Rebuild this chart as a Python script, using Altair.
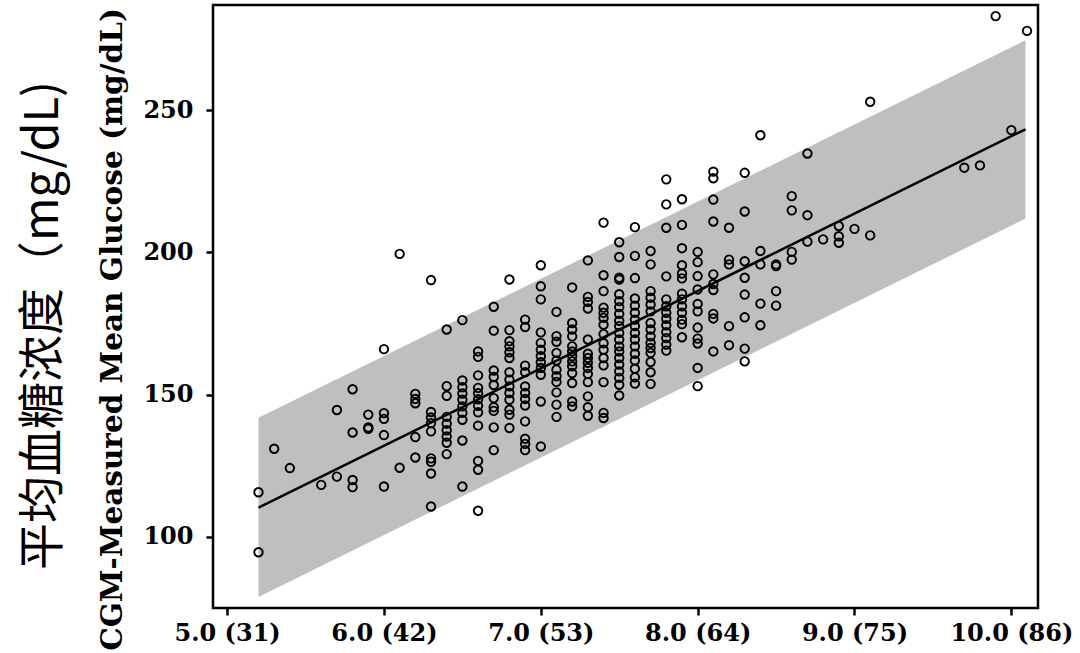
import altair as alt
import pandas as pd

# ---- data ----
a1c_levels = [5.2, 5.3, 5.4, 5.6, 5.7, 5.8, 5.9, 6.0, 6.1, 6.2, 6.3, 6.4, 6.5, 6.6,
              6.7, 6.8, 6.9, 7.0, 7.1, 7.2, 7.3, 7.4, 7.5, 7.6, 7.7, 7.8, 7.9, 8.0,
              8.1, 8.2, 8.3, 8.4, 8.5, 8.6, 8.7, 8.8, 8.9, 9.0, 9.1, 9.7, 9.8, 9.9,
              10.0, 10.1]

glucose_by_level = [
    [115.7, 94.6],
    [131.0],
    [124.2],
    [118.3],
    [121.2, 144.6],
    [151.9, 136.7, 120.0, 117.5],
    [143.0, 138.5, 138.0],
    [166.0, 143.5, 141.5, 135.8, 117.7],
    [199.5, 124.3],
    [150.3, 148.5, 147.0, 135.1, 127.9],
    [190.3, 143.9, 142.0, 140.0, 137.1, 127.6, 126.4, 122.3, 110.7],
    [172.9, 153.0, 149.6, 142.2, 139.8, 137.5, 135.3, 133.1, 129.1],
    [176.2, 155.0, 152.6, 150.4, 148.2, 145.9, 143.6, 141.2, 133.9, 117.7],
    [165.2, 163.3, 156.8, 152.4, 150.5, 148.4, 146.1, 143.8, 139.1, 126.7, 123.6, 109.2],
    [180.9, 172.5, 158.5, 156.2, 153.4, 148.8, 145.6, 144.3, 138.5, 130.5],
    [190.5, 172.7, 168.8, 167.0, 164.9, 162.9, 157.9, 155.3, 152.9, 150.6, 148.2, 144.7, 143.0, 138.3],
    [176.4, 173.8, 160.2, 157.9, 152.9, 150.6, 148.5, 146.2, 140.6, 134.5, 132.7, 130.5],
    [195.5, 188.1, 183.5, 171.9, 168.2, 165.8, 163.5, 161.4, 159.4, 157.0, 147.6, 131.8],
    [179.1, 170.6, 168.6, 164.7, 162.0, 158.8, 156.5, 154.5, 150.8, 146.5, 142.2],
    [187.7, 175.2, 172.9, 170.5, 167.0, 165.2, 163.5, 161.7, 160.0, 157.6, 154.1, 147.6, 145.9],
    [197.2, 184.4, 182.6, 180.3, 169.4, 164.4, 162.9, 161.2, 159.4, 157.3, 154.4, 149.4, 145.6, 142.6],
    [210.5, 192.0, 186.4, 180.6, 178.8, 177.0, 174.6, 171.3, 168.1, 165.8, 162.9, 160.3, 154.4, 143.6, 141.8],
    [203.6, 198.4, 191.1, 190.5, 185.3, 182.9, 180.8, 178.4, 176.0, 174.1, 171.7, 169.4, 167.0, 165.2,
     162.9, 160.6, 158.2, 155.9, 153.5, 149.7],
    [208.9, 198.8, 191.0, 183.8, 181.3, 178.8, 176.4, 174.1, 171.7, 169.4, 167.0, 164.4, 162.0, 159.1,
     156.1, 153.9],
    [200.5, 195.8, 186.4, 184.1, 181.7, 179.3, 175.2, 172.9, 170.5, 168.2, 166.4, 164.7, 161.5, 157.9, 153.8],
    [225.7, 216.9, 208.7, 191.6, 183.5, 181.1, 178.8, 176.7, 174.4, 172.0, 169.9, 167.6, 165.5],
    [218.7, 209.7, 201.5, 195.5, 192.6, 190.9, 185.5, 183.5, 181.1, 178.8, 176.4, 174.8, 170.2],
    [200.2, 196.6, 191.7, 187.0, 181.9, 179.3, 173.6, 169.7, 168.0, 159.4, 153.0],
    [228.4, 226.1, 218.6, 210.9, 192.3, 188.9, 186.8, 178.4, 176.8, 165.2],
    [208.7, 197.5, 195.8, 174.1, 167.4],
    [228.0, 214.4, 196.9, 191.1, 185.2, 177.2, 166.2, 161.7],
    [241.2, 200.5, 195.8, 182.0, 174.4],
    [195.8, 195.2, 186.4, 181.3],
    [219.8, 214.8, 200.2, 197.5],
    [234.8, 213.1, 203.8],
    [204.6],
    [209.3, 205.7, 203.4],
    [208.3],
    [253.0, 206.0],
    [229.8],
    [230.6],
    [283.1],
    [243.0],
    [277.9],
]

fit_x = [5.2, 10.09]
fit_y = [110.3, 243.3]
band_low = [78.9, 211.9]
band_high = [141.9, 274.6]

x_tick_values = [5, 6, 7, 8, 9, 10]
x_tick_labels = ["5.0 (31)", "6.0 (42)", "7.0 (53)", "8.0 (64)", "9.0 (75)", "10.0 (86)"]
y_tick_values = [100, 150, 200, 250]

y_title = "CGM-Measured Mean Glucose (mg/dL)"
cn_title = "平均血糖浓度（mg/dL)"

# ---- tables ----
pts_x, pts_y = [], []
for lvl, vals in zip(a1c_levels, glucose_by_level):
    for v in vals:
        pts_x.append(lvl)
        pts_y.append(v)
points_df = pd.DataFrame({"a1c": pts_x, "glucose": pts_y})
fit_df = pd.DataFrame({"a1c": fit_x, "glucose": fit_y, "low": band_low, "high": band_high})

label_expr = " : ".join(f"datum.value == {v} ? '{l}'" for v, l in zip(x_tick_values, x_tick_labels)) + " : ''"

serif = "DejaVu Serif"
x_scale = alt.Scale(domain=[4.91, 10.17], nice=False, zero=False)
y_scale = alt.Scale(domain=[75, 287], nice=False, zero=False)
x_axis = alt.Axis(values=x_tick_values, labelExpr=label_expr, grid=False, domain=False,
                  tickSize=7, tickWidth=2.5, tickColor="black",
                  labelFont=serif, labelFontWeight="bold", labelFontSize=24, labelColor="black",
                  labelPadding=6, labelFlush=False, labelOverlap=False)
y_axis = alt.Axis(values=y_tick_values, grid=False, domain=False,
                  tickSize=7, tickWidth=2.5, tickColor="black",
                  labelFont=serif, labelFontWeight="bold", labelFontSize=24, labelColor="black",
                  labelPadding=13,
                  titleFont=serif, titleFontWeight="bold", titleFontSize=29.5, titleColor="black",
                  titlePadding=15, titleY=324)


def xenc(field):
    return alt.X(f"{field}:Q", scale=x_scale, axis=x_axis, title=None)


def yenc(field):
    return alt.Y(f"{field}:Q", scale=y_scale, axis=y_axis, title=y_title)


band = alt.Chart(fit_df).mark_area(color="#bfbfbf", opacity=1).encode(
    x=xenc("a1c"), y=yenc("low"), y2="high:Q"
)
pts = alt.Chart(points_df).mark_point(shape="circle", filled=False, color="black",
                                      size=72, strokeWidth=1.9, opacity=1).encode(
    x=xenc("a1c"), y=yenc("glucose")
)
line = alt.Chart(fit_df).mark_line(color="black", strokeWidth=2.5).encode(
    x=xenc("a1c"), y=yenc("glucose")
)

chart = alt.layer(band, pts, line).properties(
    width=825, height=603,
    title=alt.TitleParams(text=cn_title, orient="left", anchor="middle",
                          font="Noto Sans CJK SC", fontSize=47, fontWeight="normal",
                          color="black", offset=30, dx=-19),
    padding={"left": 19, "top": 5, "right": 5, "bottom": 0},
    background="white",
).configure_view(stroke="black", strokeWidth=2.5)

chart.save("out.html", embed_options={"renderer": "svg", "actions": False})
